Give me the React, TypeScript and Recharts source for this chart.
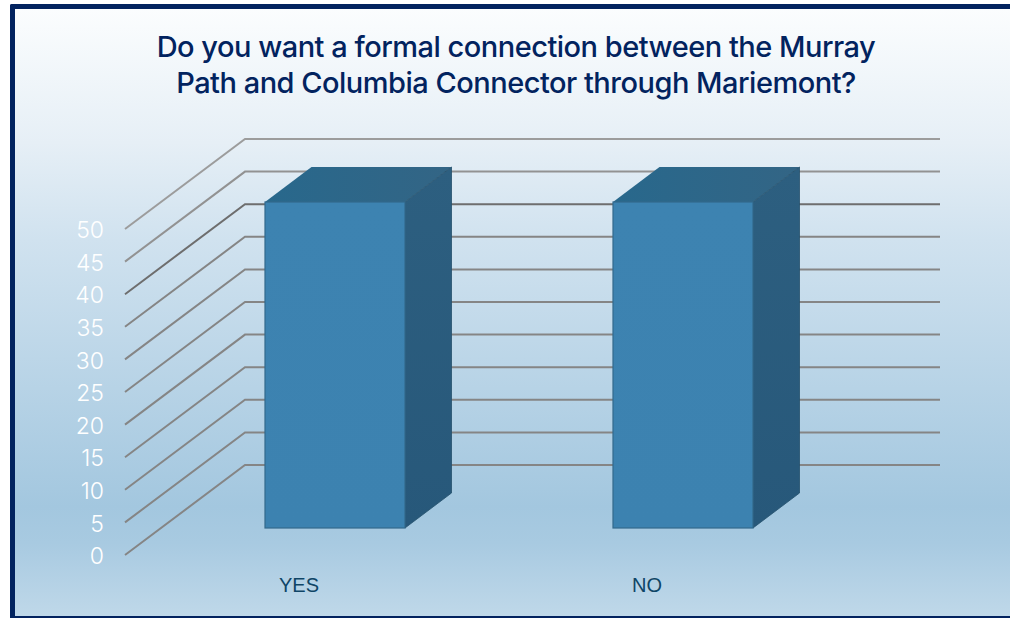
import React from "react";
import { ComposedChart, Bar, XAxis, YAxis, CartesianGrid } from "recharts";

const categories = ["YES", "NO"];
const responses = [50, 50];
const yTicks = [0, 5, 10, 15, 20, 25, 30, 35, 40, 45, 50];
const titleLines = [
  "Do you want a formal connection between the Murray",
  "Path and Columbia Connector through Mariemont?",
];
const chartData = categories.map((name, i) => ({ name, value: responses[i] }));

const WALL_DX = 120;
const WALL_DY = 90;
const WALL_RIGHT = 940;
const BAR_SHIFT_X = 36;
const BAR_SHIFT_Y = 27;
const DEPTH_X = 46.5;
const DEPTH_Y = 35;

const gridLine = (props: any) => {
  const { x1, y1, key } = props;
  const v = Math.round(y1);
  const colors: Record<number, string> = { 229: "#9c9c9c", 262: "#929292", 294: "#6e6e6e" };
  return (
    <g key={key ?? y1}>
      <polyline
        points={`${x1},${y1} ${x1 + WALL_DX},${y1 - WALL_DY} ${WALL_RIGHT},${y1 - WALL_DY}`}
        fill="none"
        stroke={colors[v] ?? "#858585"}
        strokeWidth={2}
      />
    </g>
  );
};

const Bar3D = (props: any) => {
  const { x, y, width, height } = props;
  const l = x + BAR_SHIFT_X;
  const t = y - BAR_SHIFT_Y;
  const r = l + width;
  const b = t + height;
  return (
    <g>
      <polygon
        points={`${l},${t} ${l + DEPTH_X},${t - DEPTH_Y} ${r + DEPTH_X},${t - DEPTH_Y} ${r},${t}`}
        fill="url(#topFace)"
      />
      <polygon
        points={`${r},${t} ${r + DEPTH_X},${t - DEPTH_Y} ${r + DEPTH_X},${b - DEPTH_Y} ${r},${b}`}
        fill="url(#sideFace)"
        stroke="#24506c"
        strokeWidth={0.8}
      />
      <rect x={l} y={t} width={width} height={height} fill="url(#frontFace)" stroke="#33698c" strokeWidth={1.2} />
    </g>
  );
};

export default function App() {
  return (
    <div
      style={{
        position: "absolute",
        left: 0,
        top: 0,
        width: 1010,
        height: 618,
        overflow: "hidden",
        background: "#fff",
      }}
    >
      <div
        style={{
          position: "absolute",
          left: 10,
          top: 4,
          width: 1000,
          height: 614,
          boxSizing: "border-box",
          borderLeft: "5px solid #02235f",
          borderTop: "5px solid #02235f",
          borderBottom: "2px solid #02235f",
          borderTopLeftRadius: 2,
          background:
            "linear-gradient(180deg, #fbfdfe 0%, #e6eff6 22%, #d0e2ef 38%, #a3c7df 82%, #a8cae1 88%, #bfd8e9 100%)",
        }}
      />
      <ComposedChart
        width={1010}
        height={618}
        data={chartData}
        margin={{ top: 229, right: 189, bottom: 0, left: 0 }}
        style={{ position: "absolute", left: 0, top: 0 }}
      >
        <defs>
          <linearGradient id="frontFace" x1="0" y1="0" x2="0" y2="1">
            <stop offset="0%" stopColor="#3d83b1" />
            <stop offset="100%" stopColor="#3c82b0" />
          </linearGradient>
          <linearGradient id="topFace" x1="0" y1="0" x2="1" y2="0">
            <stop offset="0%" stopColor="#28688c" />
            <stop offset="100%" stopColor="#336585" />
          </linearGradient>
          <linearGradient id="sideFace" x1="0" y1="0" x2="0" y2="1">
            <stop offset="0%" stopColor="#2d5f80" />
            <stop offset="100%" stopColor="#27587a" />
          </linearGradient>
        </defs>
        <CartesianGrid horizontal={gridLine} vertical={false} />
        <XAxis
          dataKey="name"
          height={63}
          axisLine={false}
          tickLine={false}
          tickSize={0}
          tickMargin={23}
          tick={{ fill: "#0f4566", fontSize: 20, fontFamily: "Liberation Sans" }}
        />
        <YAxis
          domain={[0, 50]}
          ticks={yTicks}
          width={125}
          interval={0}
          axisLine={false}
          tickLine={false}
          tickSize={0}
          tickMargin={21}
          tick={{ fill: "#ffffff", fontSize: 23, fontFamily: "Inter", fontWeight: 300, dy: 1 }}
        />
        <Bar dataKey="value" barSize={140} shape={Bar3D} isAnimationActive={false} />
      </ComposedChart>
      <div
        style={{
          position: "absolute",
          left: 0,
          top: 29,
          width: 1032,
          textAlign: "center",
          color: "#02235f",
          fontFamily: "Inter",
          fontWeight: 500,
          fontSize: 29,
          letterSpacing: "-0.5px",
          lineHeight: "36px",
        }}
      >
        {titleLines.map((line) => (
          <div key={line}>{line}</div>
        ))}
      </div>
    </div>
  );
}
